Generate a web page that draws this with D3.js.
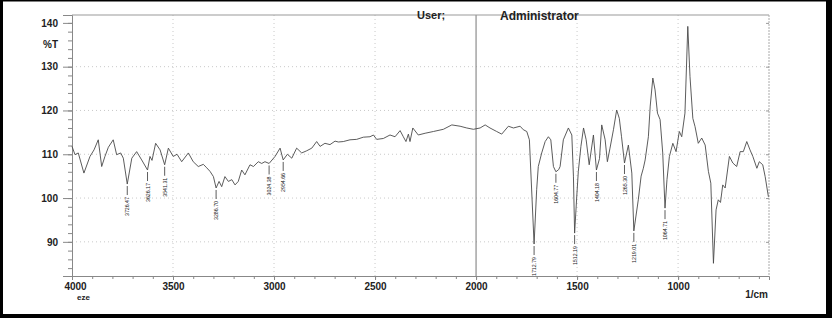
<!DOCTYPE html>
<html>
<head>
<meta charset="utf-8">
<script src="https://cdn.jsdelivr.net/npm/d3@7"></script>
<style>
    body { margin: 0; background: #fff; }
    svg { display: block; font-family: "Liberation Sans", Arial, sans-serif; }
    .tick text { font-size: 10px; font-weight: bold; fill: #222; }
    .peak-label { font-family: "Liberation Sans", Arial, sans-serif; font-size: 6px; fill: #222; }
</style>
</head>
<body>
<div class="container"></div>
<script>
const margin = {
    top: 15,
    right: 63,
    bottom: 42,
    left: 72
}

const width = 832 - margin.left - margin.right,
      height = 318 - margin.top - margin.bottom;

// spectrum (1/cm, %T)
const wavenumbers = [4000, 3985, 3969, 3941, 3911, 3891, 3870, 3853, 3837, 3820, 3796, 3779, 3759, 3746, 3726.47, 3704, 3680, 3655, 3626.17, 3614, 3604, 3586, 3564, 3541.31, 3523, 3499, 3480, 3457, 3424, 3400, 3375, 3350, 3333, 3317, 3300, 3286.70, 3272, 3259, 3243, 3226, 3209, 3193, 3177, 3160, 3144, 3119, 3102, 3078, 3061, 3045, 3024.38, 2995, 2970, 2954.66, 2934, 2912, 2888, 2863, 2838, 2813, 2789, 2772, 2748, 2723, 2698, 2682, 2657, 2624, 2591, 2558, 2525, 2508, 2492, 2459, 2426, 2401, 2376, 2360, 2347, 2335, 2327, 2313, 2286, 2252, 2211, 2162, 2120, 2079, 2046, 2013, 1980, 1955, 1931, 1898, 1873, 1840, 1815, 1782, 1766, 1749, 1736, 1712.79, 1700, 1692, 1675, 1658, 1642, 1630, 1617, 1604.77, 1591, 1584, 1568, 1543, 1526, 1518, 1512.19, 1502, 1494, 1481, 1468, 1455, 1440, 1419, 1404.18, 1389, 1378, 1361, 1350, 1337, 1320, 1304, 1291, 1280, 1265.30, 1246, 1229, 1219.01, 1197, 1183, 1172, 1163, 1147, 1138, 1125, 1114, 1102, 1089, 1076, 1064.71, 1055, 1043, 1026, 1010, 994, 982, 966, 952, 941, 927, 916, 900, 883, 866, 850, 838, 825, 812, 801, 790, 779, 767, 746, 729, 710, 693, 677, 660, 644, 630, 610, 598, 581, 569, 553];

const transmittance = [111.8, 109.9, 110.3, 105.7, 109.5, 111.0, 113.3, 107.2, 109.5, 111.6, 113.3, 109.9, 110.3, 109.1, 103.2, 109.1, 110.6, 108.7, 106.4, 109.5, 108.6, 112.5, 111.0, 107.6, 111.4, 109.5, 110.0, 108.3, 110.3, 108.3, 107.2, 107.7, 106.9, 106.1, 104.9, 102.3, 103.8, 102.6, 104.9, 103.8, 104.2, 103.0, 103.8, 106.4, 105.3, 107.6, 107.2, 108.3, 107.9, 108.3, 107.9, 109.5, 111.4, 108.7, 110.0, 109.1, 111.4, 110.3, 110.8, 111.4, 112.9, 111.8, 112.5, 112.2, 113.0, 112.8, 112.9, 113.3, 113.4, 113.9, 114.0, 114.4, 113.4, 113.6, 114.4, 114.0, 115.4, 114.0, 112.9, 114.6, 112.9, 116.0, 114.4, 114.8, 115.2, 115.7, 116.7, 116.4, 116.0, 115.7, 116.0, 116.7, 116.0, 115.2, 114.6, 116.4, 116.0, 116.4, 115.6, 115.2, 113.3, 89.5, 101.9, 107.2, 110.3, 112.9, 114.0, 113.3, 107.2, 106.0, 106.5, 107.2, 113.3, 116.0, 114.4, 105.0, 92.0, 100.0, 106.0, 111.8, 116.0, 113.3, 107.6, 114.4, 106.4, 109.0, 116.7, 113.3, 108.3, 111.4, 115.6, 120.1, 118.2, 114.0, 108.0, 112.1, 105.7, 92.5, 99.6, 105.0, 106.8, 108.7, 114.0, 121.0, 127.4, 124.7, 119.4, 117.9, 110.3, 97.7, 104.2, 109.5, 112.5, 110.6, 115.2, 114.0, 119.4, 139.2, 127.7, 118.2, 116.3, 112.5, 113.7, 112.1, 106.1, 103.4, 85.1, 97.3, 99.6, 99.0, 103.0, 102.3, 109.5, 108.0, 107.2, 110.6, 110.6, 112.9, 111.0, 109.5, 106.8, 108.3, 107.6, 104.9, 100.3];

const peakLabels = ["3726.47", "3626.17", "3541.31", "3286.70", "3024.38", "2954.66", "1712.79", "1604.77", "1512.19", "1404.18", "1265.30", "1219.01", "1064.71"];

const xTicks = [4000, 3500, 3000, 2500, 2000, 1500, 1000];
const yTicks = [90, 100, 110, 120, 130, 140];

const data = wavenumbers.map((w, i) => ({wn: w, t: transmittance[i]}));
const peaks = peakLabels.map(s => data.find(d => d.wn === +s));

const svg = d3.select(".container")
    .append("svg")
    .attr("width", width + margin.left + margin.right)
    .attr("height", height + margin.top + margin.bottom);

const g = svg.append("g")
    .attr("transform", `translate(${margin.left}, ${margin.top})`);

const xScale = d3.scaleLinear()
    .domain([4000, 550])
    .range([0, width]);

const yScale = d3.scaleLinear()
    .domain([82.2, 141.8])
    .range([height, 0]);

// dotted grid
g.selectAll(".grid-x")
    .data(xTicks.filter(d => d !== 4000 && d !== 2000))
    .join("line")
    .classed("grid-x", true)
    .attr("x1", d => xScale(d))
    .attr("x2", d => xScale(d))
    .attr("y1", 0)
    .attr("y2", height)
    .attr("stroke", "#bbb")
    .attr("stroke-width", 0.8)
    .attr("stroke-dasharray", "1,3");

g.selectAll(".grid-y")
    .data(yTicks.filter(d => d !== 140))
    .join("line")
    .classed("grid-y", true)
    .attr("x1", 0)
    .attr("x2", width)
    .attr("y1", d => yScale(d))
    .attr("y2", d => yScale(d))
    .attr("stroke", "#bbb")
    .attr("stroke-width", 0.8)
    .attr("stroke-dasharray", "1,3");

// solid marker at 2000
g.append("line")
    .attr("x1", xScale(2000))
    .attr("x2", xScale(2000))
    .attr("y1", 0)
    .attr("y2", height)
    .attr("stroke", "#777")
    .attr("stroke-width", 1);

// frame: top and right
g.append("line")
    .attr("x1", 0).attr("x2", width)
    .attr("y1", 0).attr("y2", 0)
    .attr("stroke", "#999");

g.append("line")
    .attr("x1", width).attr("x2", width)
    .attr("y1", 0).attr("y2", height)
    .attr("stroke", "#aaa")
    .attr("stroke-dasharray", "2,1");

// minor ticks
g.append("g")
    .call(d3.axisLeft(yScale).ticks(30).tickSize(4).tickFormat(""))
    .call(a => a.select(".domain").remove())
    .selectAll("line").attr("stroke", "#888");

g.append("g")
    .attr("transform", `translate(0, ${height})`)
    .call(d3.axisBottom(xScale).tickValues(d3.range(4000, 549, -100)).tickSize(3).tickFormat(""))
    .call(a => a.select(".domain").remove())
    .selectAll("line").attr("stroke", "#888");

g.append("g")
    .attr("transform", `translate(${width}, 0)`)
    .call(d3.axisLeft(yScale).tickValues(yTicks).tickSize(3).tickFormat(""))
    .call(a => a.select(".domain").remove())
    .selectAll("line").attr("stroke", "#999");

// major axes
const yAxis = g.append("g")
    .call(d3.axisLeft(yScale).tickValues(yTicks).tickSize(9).tickPadding(5));
yAxis.select(".domain").attr("stroke", "#888");
yAxis.selectAll(".tick line").attr("stroke", "#888");

const xAxis = g.append("g")
    .attr("transform", `translate(0, ${height})`)
    .call(d3.axisBottom(xScale).tickValues(xTicks).tickSize(4).tickPadding(3).tickFormat(d3.format("d")));
xAxis.select(".domain").attr("stroke", "#888");
xAxis.selectAll(".tick line").attr("stroke", "#888");
xAxis.selectAll(".tick text").filter(d => d === 4000).attr("dx", 3);

// spectrum
const line = d3.line()
    .x(d => xScale(d.wn))
    .y(d => yScale(d.t));

g.append("path")
    .datum(data)
    .attr("fill", "none")
    .attr("stroke", "#4a4a4a")
    .attr("stroke-width", 0.9)
    .attr("stroke-linejoin", "round")
    .attr("d", line);

// peak markers
g.selectAll(".peak-tick")
    .data(peaks)
    .join("line")
    .classed("peak-tick", true)
    .attr("x1", d => xScale(d.wn))
    .attr("x2", d => xScale(d.wn))
    .attr("y1", d => yScale(d.t) + 2)
    .attr("y2", d => yScale(d.t) + 11)
    .attr("stroke", "#333")
    .attr("stroke-width", 0.8);

g.selectAll(".peak-label")
    .data(peaks)
    .join("text")
    .classed("peak-label", true)
    .attr("transform", d => `translate(${xScale(d.wn)}, ${yScale(d.t) + 13}) rotate(-90)`)
    .attr("text-anchor", "end")
    .attr("dy", "0.35em")
    .attr("textLength", 19)
    .attr("lengthAdjust", "spacingAndGlyphs")
    .text(d => d.wn.toFixed(2));

// texts
svg.append("text")
    .text("%T")
    .attr("x", 58)
    .attr("y", 48)
    .attr("text-anchor", "end")
    .attr("font-size", 10)
    .attr("font-weight", "bold")
    .attr("fill", "#222");

svg.append("text")
    .text("User;")
    .attr("x", 417)
    .attr("y", 19)
    .attr("font-size", 11)
    .attr("font-weight", "bold")
    .attr("fill", "#222");

svg.append("text")
    .text("Administrator")
    .attr("x", 500)
    .attr("y", 20)
    .attr("font-size", 12)
    .attr("font-weight", "bold")
    .attr("fill", "#222");

svg.append("text")
    .text("eze")
    .attr("x", 77)
    .attr("y", 300)
    .attr("font-size", 8)
    .attr("font-weight", "bold")
    .attr("fill", "#222");

svg.append("text")
    .text("1/cm")
    .attr("x", 768)
    .attr("y", 298)
    .attr("text-anchor", "end")
    .attr("font-size", 10)
    .attr("font-weight", "bold")
    .attr("fill", "#222");

// scan frame
svg.append("rect").attr("x", 0).attr("y", 0).attr("width", 3).attr("height", 318).attr("fill", "#000");
svg.append("rect").attr("x", 826).attr("y", 0).attr("width", 6).attr("height", 318).attr("fill", "#000");
svg.append("rect").attr("x", 0).attr("y", 0).attr("width", 832).attr("height", 1.5).attr("fill", "#000");
svg.append("rect").attr("x", 0).attr("y", 314).attr("width", 832).attr("height", 4).attr("fill", "#000");
</script>
</body>
</html>
